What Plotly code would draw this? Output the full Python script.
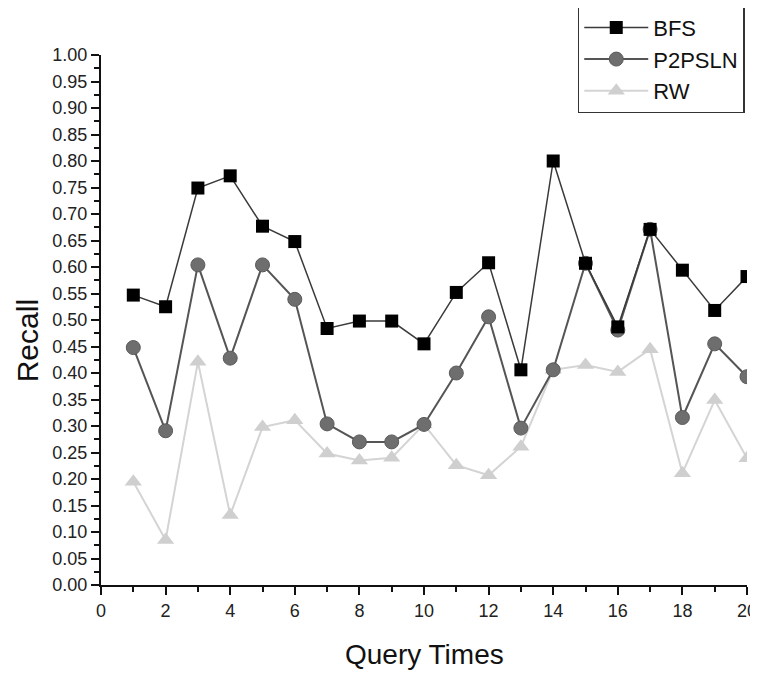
import plotly.graph_objects as go

query_times = list(range(1, 21))
bfs = [0.547, 0.525, 0.749, 0.772, 0.677, 0.648, 0.484, 0.498, 0.498, 0.455,
       0.552, 0.608, 0.406, 0.800, 0.607, 0.487, 0.671, 0.594, 0.518, 0.582]
p2psln = [0.448, 0.291, 0.604, 0.428, 0.604, 0.539, 0.304, 0.270, 0.270, 0.303,
          0.400, 0.506, 0.296, 0.406, 0.607, 0.481, 0.671, 0.316, 0.455, 0.393]
rw = [0.195, 0.085, 0.421, 0.132, 0.298, 0.311, 0.248, 0.235, 0.240, 0.303,
      0.226, 0.207, 0.261, 0.406, 0.415, 0.402, 0.445, 0.211, 0.349, 0.239]

x_title = "Query Times"
y_title = "Recall"

font_family = "Liberation Sans, Arial, sans-serif"

fig = go.Figure()
fig.add_trace(go.Scatter(
    x=query_times, y=rw, name="RW", mode="lines+markers",
    line=dict(color="#d4d4d4", width=2),
    marker=dict(symbol="triangle-up", size=15, color="#cfcfcf",
                line=dict(color="#cfcfcf", width=0)),
))
fig.add_trace(go.Scatter(
    x=query_times, y=p2psln, name="P2PSLN", mode="lines+markers",
    line=dict(color="#555555", width=2),
    marker=dict(symbol="circle", size=14, color="#6e6e6e",
                line=dict(color="#5a5a5a", width=1)),
))
fig.add_trace(go.Scatter(
    x=query_times, y=bfs, name="BFS", mode="lines+markers",
    line=dict(color="#3a3a3a", width=1.5),
    marker=dict(symbol="square", size=13, color="#000000",
                line=dict(color="#000000", width=0)),
))

fig.update_layout(
    width=750, height=666,
    margin=dict(l=93, r=11, t=47, b=89, autoexpand=False),
    paper_bgcolor="white", plot_bgcolor="white",
    font=dict(family=font_family, color="#111111"),
    showlegend=True,
    legend=dict(
        x=0.738, y=1.094, xanchor="left", yanchor="top",
        bordercolor="#333333", borderwidth=1.5, bgcolor="white",
        font=dict(size=22, family=font_family, color="#111111"),
        traceorder="reversed",
        itemwidth=64, tracegroupgap=0,
    ),
    xaxis=dict(
        range=[0, 20], tickmode="linear", tick0=0, dtick=2,
        showgrid=False, zeroline=False,
        showline=True, linecolor="#111111", linewidth=2,
        ticks="outside", ticklen=8, tickwidth=2, tickcolor="#111111",
        tickfont=dict(size=18, family=font_family, color="#222222"),
        minor=dict(ticks="outside", ticklen=5, tickwidth=1.5, dtick=1, tickcolor="#111111"),
    ),
    yaxis=dict(
        range=[0, 1], tickmode="linear", tick0=0, dtick=0.05, tickformat=".2f",
        showgrid=False, zeroline=False,
        showline=True, linecolor="#111111", linewidth=2,
        ticks="outside", ticklen=8, tickwidth=2, tickcolor="#111111",
        tickfont=dict(size=18, family=font_family, color="#222222"),
        minor=dict(ticks="outside", ticklen=5, tickwidth=1.5, dtick=0.025, tickcolor="#111111"),
    ),
    annotations=[
        dict(text=x_title, xref="paper", yref="paper", x=0.5, y=-0.132,
             xanchor="center", yanchor="middle", showarrow=False,
             font=dict(size=28, family=font_family, color="#111111")),
        dict(text=y_title, xref="paper", yref="paper", x=-0.143, y=0.46,
             xanchor="left", yanchor="middle", showarrow=False, textangle=-90,
             font=dict(size=30, family=font_family, color="#111111")),
    ],
)

fig.write_html("out.html")
